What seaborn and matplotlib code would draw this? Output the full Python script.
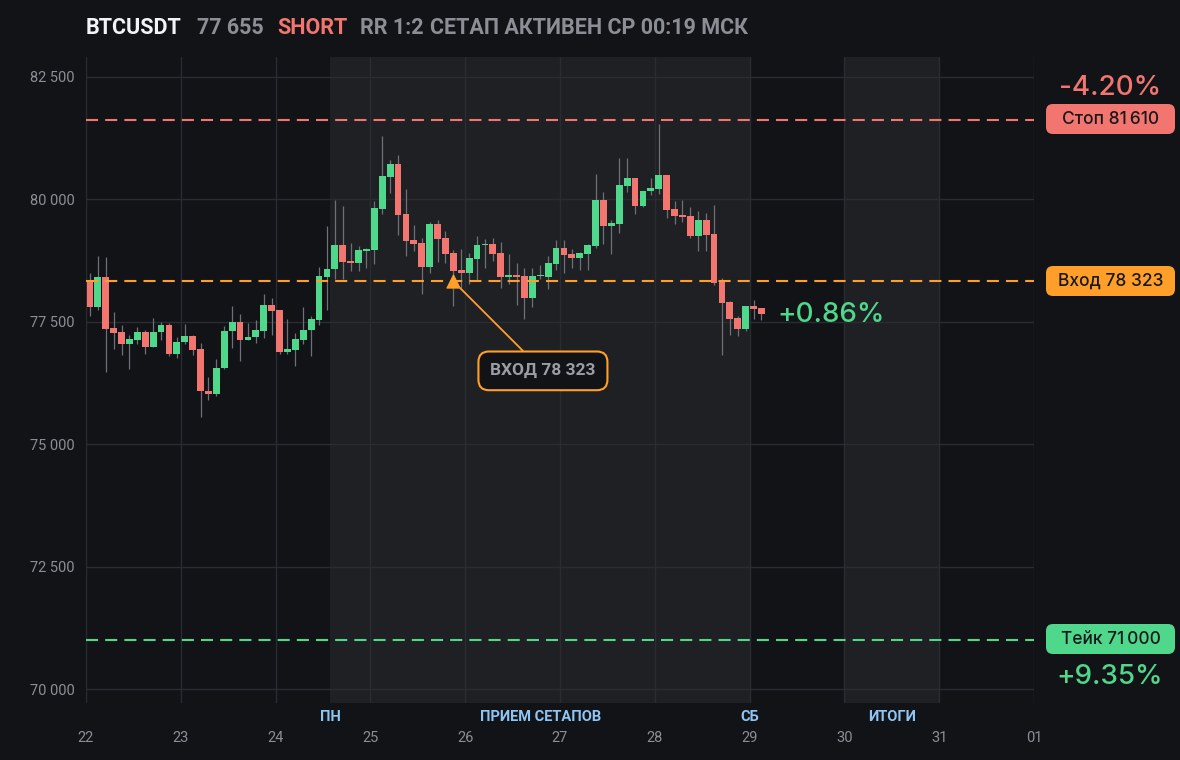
import numpy as np
import pandas as pd
import matplotlib
matplotlib.use("Agg")
import matplotlib.pyplot as plt
import matplotlib.transforms as mtransforms
from matplotlib.patches import FancyBboxPatch
import seaborn as sns

# данные: 2-часовые свечи BTCUSDT, 22 -> 29 число
opens = [78347, 77804, 78408, 77370, 77289, 77051, 77133, 77289, 76990, 77289,
         77431, 76848, 77085, 77207, 76943, 76088, 76013, 76556, 77309, 77492,
         77133, 77187, 77316, 77838, 77736, 76888, 76929, 77133, 77329, 77540,
         78415, 78564, 79073, 78734, 78700, 78950, 78964, 79799, 80450, 80708,
         79690, 79161, 79100, 78618, 79487, 79202, 78897, 78550, 78496, 78781,
         79059, 79080, 78897, 78414, 78448, 78428, 77987, 78428, 78414, 78679,
         78999, 78876, 78802, 78883, 79046, 79976, 79453, 79494, 80268, 80424,
         79860, 80159, 80207, 80485, 79793, 79670, 79650, 79250, 79569, 79284,
         78306, 77899, 77574, 77357, 77818, 77777]
highs = [78490, 78836, 78815, 77696, 77431, 77228, 77390, 77329, 77574, 77492,
         77472, 77187, 77451, 77228, 77065, 76372, 76739, 77411, 77818, 77655,
         77472, 77533, 78062, 77981, 77736, 77553, 77268, 77798, 77614, 78612,
         79446, 79989, 79853, 79100, 79039, 79005, 79955, 81278, 80803, 80905,
         80213, 79466, 79208, 79534, 79568, 79344, 78957, 78978, 78896, 79242,
         79182, 79202, 79120, 78876, 78693, 78598, 78598, 78652, 78835, 79161,
         79161, 78978, 78917, 79080, 80505, 80139, 79568, 80831, 80831, 80424,
         80159, 80424, 81523, 80485, 79955, 79976, 79833, 79752, 79711, 79874,
         78394, 77920, 77615, 77818, 77940, 77777]
lows = [77614, 77736, 76461, 76949, 76827, 76522, 77051, 76848, 76990, 77133,
        76807, 76766, 77051, 76827, 75545, 75891, 75972, 76542, 76970, 76705,
        77133, 77071, 77173, 77234, 76848, 76848, 76603, 77051, 76807, 77431,
        77743, 78360, 78374, 78530, 78530, 78584, 78679, 79697, 80125, 79276,
        78842, 78937, 78055, 78482, 78720, 78700, 77821, 78190, 78258, 78340,
        78598, 78734, 78190, 78258, 77845, 77560, 77804, 78360, 78157, 78550,
        78496, 78598, 78557, 78557, 79005, 79087, 78883, 79311, 80145, 79697,
        79840, 80084, 80105, 79616, 79494, 79535, 79209, 78944, 78944, 78252,
        76827, 77234, 77214, 77316, 77560, 77526]
closes = [77804, 78408, 77356, 77275, 77051, 77146, 77289, 76990, 77289, 77431,
          76848, 77085, 77207, 76929, 76074, 76013, 76556, 77309, 77492, 77133,
          77187, 77329, 77838, 77723, 76888, 76943, 77146, 77329, 77553, 78429,
          78564, 79073, 78720, 78700, 78957, 78984, 79813, 80464, 80708, 79677,
          79147, 79080, 78618, 79487, 79188, 78883, 78537, 78496, 78795, 79059,
          79080, 78883, 78414, 78448, 78414, 77987, 78428, 78448, 78693, 78998,
          78863, 78802, 78897, 79059, 79976, 79453, 79507, 80281, 80424, 79860,
          80159, 80220, 80485, 79779, 79657, 79636, 79250, 79569, 79270, 78293,
          77886, 77560, 77357, 77818, 77764, 77655]

day_labels = ["22", "23", "24", "25", "26", "27", "28", "29", "30", "31", "01"]
y_ticks = [70000, 72500, 75000, 77500, 80000, 82500]
y_tick_labels = ["70 000", "72 500", "75 000", "77 500", "80 000", "82 500"]

stop_price = 81610
entry_price = 78323
take_price = 71000
entry_candle = 46          # индекс свечи входа
stop_pct = "-4.20%"
take_pct = "+9.35%"
now_pct = "+0.86%"

# полосы: (начало, конец) в днях от 22 числа
bands = [(2.574, 7.0), (8.0, 9.0)]
band_labels = [("ПН", 2.574), ("ПРИЕМ СЕТАПОВ", 4.79), ("СБ", 7.0), ("ИТОГИ", 8.5)]

BG = "#121317"
BAND = "#1f2024"
GRID = "#2b2c31"
GREEN = "#4fd88c"
RED = "#f2766f"
ORANGE = "#ff9f2a"
GRAY = "#8b8e95"
BLUE = "#8ec5f5"
INTER = ["Inter", "DejaVu Sans"]

sns.set_theme(style="dark")
plt.rcParams["font.family"] = ["Roboto", "DejaVu Sans"]

n = len(opens)
df = pd.DataFrame({"o": opens, "h": highs, "l": lows, "c": closes})
df["x"] = (np.arange(n) + 0.5) / 12.0
df["up"] = df["c"] >= df["o"]

fig = plt.figure(figsize=(11.8, 7.6), dpi=100, facecolor=BG)
ax = fig.add_axes([86 / 1180, 57 / 760, 948 / 1180, 646 / 760])
ax.set_facecolor(BG)

for a, b in bands:
    ax.axvspan(a, b, color=BAND, zorder=0, lw=0)

ax.set_xlim(0, 10)
ax.set_ylim(69715, 82900)
ax.set_xticks(range(11))
ax.set_xticklabels(day_labels)
ax.set_yticks(y_ticks)
ax.set_yticklabels(y_tick_labels)
ax.grid(True, color=GRID, lw=1, zorder=1)
ax.set_axisbelow(True)
for s in ax.spines.values():
    s.set_visible(False)
ax.tick_params(axis="x", colors=GRAY, labelsize=10.5, length=0, pad=20)
ax.tick_params(axis="y", colors=GRAY, labelsize=10.5, length=0, pad=8)

# свечи
w = 0.85 / 12
ax.vlines(df["x"], df["l"], df["h"], color="#6d7077", lw=0.9, zorder=2)
body_bot = np.minimum(df["o"], df["c"])
body_h = np.maximum(np.abs(df["c"] - df["o"]), 12)
ax.bar(df["x"], body_h, bottom=body_bot, width=w,
       color=np.where(df["up"], GREEN, RED), lw=0, zorder=3)

# уровни
dash = (0, (5.8, 3.4))
ax.axhline(stop_price, color=RED, lw=1.5, ls=dash, zorder=4)
ax.axhline(entry_price, color=ORANGE, lw=1.5, ls=dash, zorder=4)
ax.axhline(take_price, color=GREEN, lw=1.5, ls=dash, zorder=4)

# маркер входа
ex = df["x"].iloc[entry_candle]
sns.scatterplot(x=[ex], y=[entry_price], marker="^", s=90, color=ORANGE,
                edgecolor=ORANGE, ax=ax, zorder=6, legend=False)
ax.annotate("ВХОД 78 323", xy=(ex, entry_price), xytext=(4.82, 76494),
            textcoords="data", ha="center", va="center", fontsize=12.5,
            fontweight="bold", color="#9a9da4", zorder=7,
            bbox=dict(boxstyle="round,pad=0.68,rounding_size=0.6", fc=BG,
                      ec=ORANGE, lw=1.5),
            arrowprops=dict(arrowstyle="-", color=ORANGE, lw=1.3,
                            shrinkA=0, shrinkB=7))

ax.text(7.29, 77634, now_pct, color=GREEN, fontsize=20, va="center",
        ha="left", family=INTER, fontweight="medium", zorder=7)

# подписи полос под осью
trans = mtransforms.blended_transform_factory(ax.transData, ax.transAxes)
for lab, xpos in band_labels:
    ax.text(xpos, -0.022, lab, transform=trans, color=BLUE, fontsize=10.5,
            fontweight="bold", ha="center", va="center", clip_on=False)

# правая колонка: ярлыки уровней
idt = mtransforms.IdentityTransform()

def px(x, y):
    return x, 760 - y

def tag(cy, label, color):
    x0, y0 = px(1046, cy + 15)
    box = FancyBboxPatch((x0, y0), 129, 30,
                         boxstyle="round,pad=0,rounding_size=7",
                         fc=color, ec="none", transform=idt)
    fig.add_artist(box)
    cx, cyy = px(1110.5, cy)
    fig.text(cx / 1180, cyy / 760, label, ha="center", va="center",
             fontsize=12.5, color="#17181c", fontweight="medium",
             family=INTER)

tag(119, "Стоп 81\u202f610", RED)
tag(281, "Вход 78 323", ORANGE)
tag(639, "Тейк 71\u202f000", GREEN)

fig.text(1110 / 1180, 1 - 88 / 760, stop_pct, ha="center", va="center",
         fontsize=20, color=RED, family=INTER, fontweight="medium")
fig.text(1110 / 1180, 1 - 677 / 760, take_pct, ha="center", va="center",
         fontsize=20, color=GREEN, family=INTER, fontweight="medium")

# заголовок
title_parts = [("BTCUSDT", 86, "#f2f3f5"), ("77 655", 197, GRAY),
               ("SHORT", 277, RED), ("RR 1:2", 360, GRAY),
               ("СЕТАП АКТИВЕН СР 00:19 МСК", 430, GRAY)]
for txt, xpx, col in title_parts:
    fig.text(xpx / 1180, 1 - 28 / 760, txt, ha="left", va="center",
             fontsize=15.5, fontweight="bold", color=col)

fig.savefig("out.png", dpi=100, facecolor=BG)
